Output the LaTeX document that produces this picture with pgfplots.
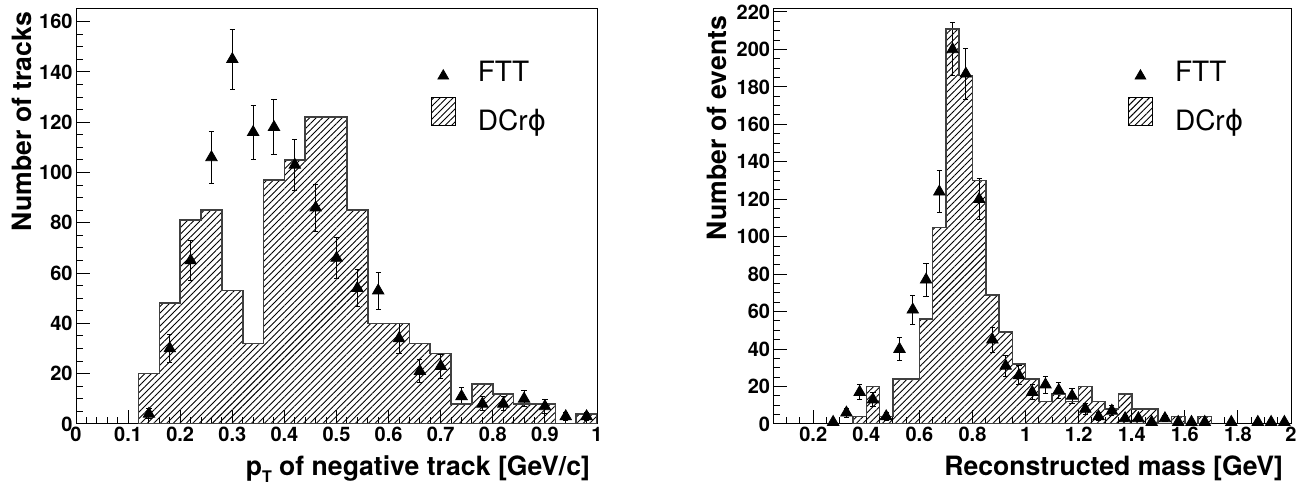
\documentclass[border=0pt]{standalone}
\usepackage{fontspec}
\setmainfont{TeX Gyre Heros}
\newfontfamily\dejavu{DejaVu Sans}
\usepackage{pgfplots}
\pgfplotsset{compat=1.18}
\usetikzlibrary{patterns.meta}

\pgfplotsset{
  rootaxis/.style={
    scale only axis,
    height=207.5pt,
    axis line style={line width=0.5pt},
    tick align=inside,
    xtick pos=left, ytick pos=left,
    major tick length=7pt, minor tick length=3.5pt,
    every tick/.style={black, line width=0.5pt},
    /pgf/number format/assume math mode=true,
    tick label style={font=\bfseries\fontsize{10}{12}\selectfont},
    yticklabel style={inner sep=1.5pt},
    xticklabel style={inner sep=1.5pt},
    legend cell align=left,
    legend style={draw=none, fill=none, inner sep=0pt, anchor=north west,
      font=\fontsize{14}{16}\selectfont, row sep=6pt,
      nodes={inner sep=0pt, outer sep=0pt}, column sep=11pt},
  },
  hist/.style={const plot mark left, draw=black!75, line width=0.8pt,
    pattern={Lines[angle=45,distance=2.3pt,line width=0.45pt]}, pattern color=black,
    legend image code/.code={\draw[draw=black, line width=0.6pt,
      pattern={Lines[angle=45,distance=2.3pt,line width=0.45pt]}, pattern color=black]
      (0pt,-2pt) rectangle (12pt,12pt);}},
  ftt/.style={only marks, mark=triangle*, mark size=3.3pt, black,
    mark options={fill=black, draw=black},
    error bars/y dir=both, error bars/y explicit,
    error bars/error bar style={line width=0.5pt, black},
    error bars/error mark options={rotate=90, mark size=1.3pt, line width=0.5pt, black},
    legend image code/.code={\draw[mark=triangle*, mark size=3.1pt, black]
      plot coordinates {(6pt,-1.5pt)};}},
}

\begin{document}
\begin{tikzpicture}
\path[use as bounding box] (0,0) rectangle (652pt,243pt);

% left: pT of negative track
\begin{axis}[rootaxis, name=left,
  at={(38pt,31pt)}, anchor=south west, width=260.5pt,
  xmin=0, xmax=1, ymin=0, ymax=165,
  xtick={0,0.1,...,1}, minor x tick num=4,
  ytick={0,20,...,160}, minor y tick num=3,
  legend style={at={(0.68,0.875)}},
]
\addplot[ftt] coordinates {
(0.14,4) +- (0,2)
(0.18,30) +- (0,5.48)
(0.22,65) +- (0,8.06)
(0.26,106) +- (0,10.3)
(0.30,145) +- (0,12.04)
(0.34,116) +- (0,10.77)
(0.38,118) +- (0,10.86)
(0.42,103) +- (0,10.15)
(0.46,86) +- (0,9.27)
(0.50,66) +- (0,8.12)
(0.54,54) +- (0,7.35)
(0.58,53) +- (0,7.28)
(0.62,34) +- (0,5.83)
(0.66,21) +- (0,4.58)
(0.70,23) +- (0,4.80)
(0.74,11) +- (0,3.32)
(0.78,8) +- (0,2.83)
(0.82,8) +- (0,2.83)
(0.86,10) +- (0,3.16)
(0.90,7) +- (0,2.65)
(0.94,3) +- (0,1.73)
(0.98,3) +- (0,1.73)
};
\addlegendentry{FTT}
\addplot[hist] coordinates {
(0.12,20) (0.16,48) (0.20,81) (0.24,85) (0.28,53) (0.32,32)
(0.36,97) (0.40,105) (0.44,122) (0.48,122) (0.52,85) (0.56,40)
(0.60,40) (0.64,32) (0.68,28) (0.72,8) (0.76,16) (0.80,12)
(0.84,8) (0.88,8) (0.92,0) (0.96,4) (1.00,4)
} \closedcycle;
\addlegendentry{DCr{\dejavu ϕ}}
\end{axis}
\node[rotate=90, anchor=base east, font=\bfseries\fontsize{13.3}{15}\selectfont]
  at ([xshift=-22pt,yshift=2pt]left.north west) {Number of tracks};
\node[anchor=base east, font=\bfseries\fontsize{13.3}{15}\selectfont]
  at ([yshift=-26pt]left.south east)
  {p\raisebox{-0.45ex}{\fontsize{8}{8}\selectfont T} of negative track [GeV/c]};

% right: reconstructed mass
\begin{axis}[rootaxis, name=right,
  at={(386.7pt,31pt)}, anchor=south west, width=258.8pt,
  xmin=0.05, xmax=2, ymin=0, ymax=221.6,
  xtick={0.2,0.4,...,2}, minor xtick={0.1,0.15,...,2},
  ytick={0,20,...,220}, minor y tick num=3,
  legend style={at={(0.684,0.875)}},
]
\addplot[ftt] coordinates {
(0.275,1) +- (0,1)
(0.325,6) +- (0,2.45)
(0.375,17) +- (0,4.12)
(0.425,13) +- (0,3.61)
(0.475,4) +- (0,2)
(0.525,40) +- (0,6.32)
(0.575,61) +- (0,7.81)
(0.625,77) +- (0,8.77)
(0.675,124) +- (0,11.14)
(0.725,200) +- (0,14.14)
(0.775,187) +- (0,13.67)
(0.825,120) +- (0,10.95)
(0.875,45) +- (0,6.71)
(0.925,31) +- (0,5.57)
(0.975,26) +- (0,5.10)
(1.025,17) +- (0,4.12)
(1.075,21) +- (0,4.58)
(1.125,18) +- (0,4.24)
(1.175,15) +- (0,3.87)
(1.225,8) +- (0,2.83)
(1.275,4) +- (0,2)
(1.325,7) +- (0,2.65)
(1.375,3) +- (0,1.73)
(1.425,3) +- (0,1.73)
(1.475,1) +- (0,1)
(1.525,3) +- (0,1.73)
(1.575,1) +- (0,1)
(1.625,1) +- (0,1)
(1.675,1) +- (0,1)
(1.775,1) +- (0,1)
(1.875,1) +- (0,1)
(1.925,1) +- (0,1)
(1.975,1) +- (0,1)
};
\addlegendentry{FTT}
\addplot[hist] coordinates {
(0.35,4) (0.40,20) (0.45,4) (0.50,24) (0.55,24) (0.60,56)
(0.65,105) (0.70,211) (0.75,186) (0.80,130) (0.85,69) (0.90,49)
(0.95,32) (1.00,24) (1.05,12) (1.10,16) (1.15,12) (1.20,20)
(1.25,12) (1.30,8) (1.35,16) (1.40,8) (1.45,8) (1.50,0)
(1.55,4) (1.60,0) (1.65,4) (1.70,4)
} \closedcycle;
\addlegendentry{DCr{\dejavu ϕ}}
\end{axis}
\node[rotate=90, anchor=base east, font=\bfseries\fontsize{13.3}{15}\selectfont]
  at ([xshift=-23.3pt,yshift=0pt]right.north west) {Number of events};
\node[anchor=base east, font=\bfseries\fontsize{13.3}{15}\selectfont]
  at ([xshift=-0.5pt,yshift=-26pt]right.south east) {Reconstructed mass [GeV]};
\end{tikzpicture}
\end{document}
